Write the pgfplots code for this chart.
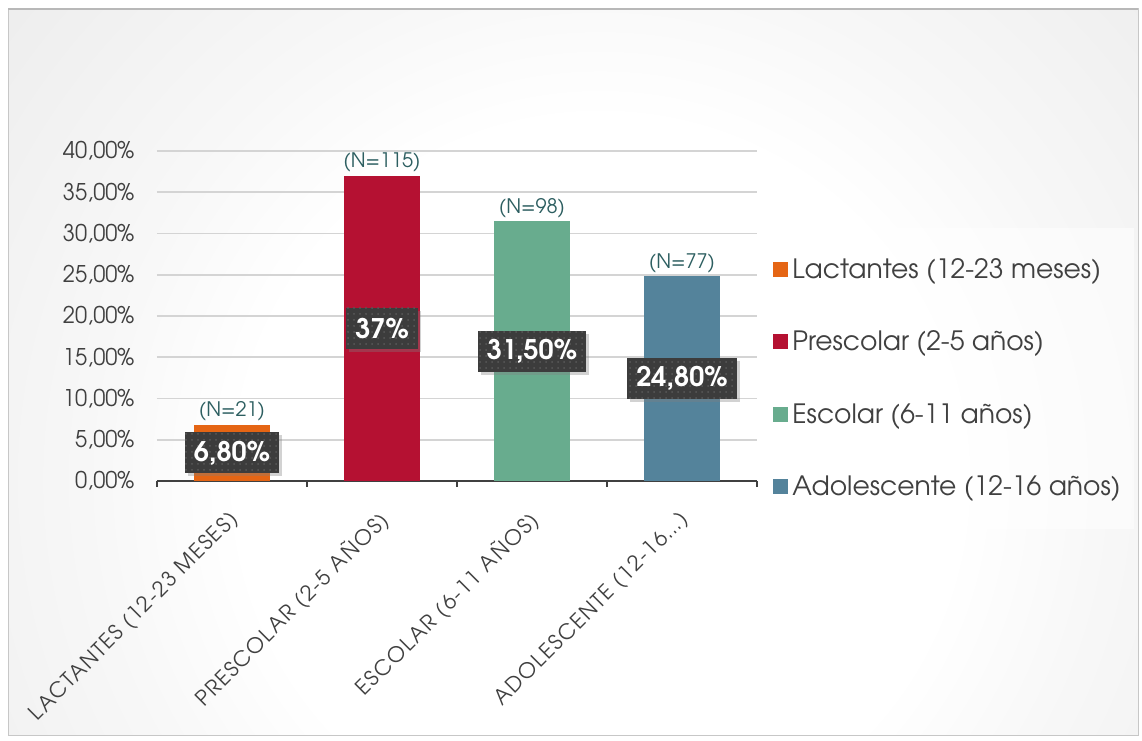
\documentclass[border=0pt]{standalone}
\usepackage{pgfplots}
\pgfplotsset{compat=1.18}
\usepackage{fontspec}
\setmainfont{TeX Gyre Adventor}
\usetikzlibrary{shadows,patterns}
\definecolor{cOr}{RGB}{229,101,20}
\definecolor{cRed}{RGB}{181,17,50}
\definecolor{cGreen}{RGB}{104,172,142}
\definecolor{cBlue}{RGB}{84,131,155}
\definecolor{txt}{RGB}{64,64,64}
\definecolor{ncol}{RGB}{44,94,96}
\definecolor{boxc}{RGB}{60,60,60}
\pgfdeclareradialshading{bgshade}{\pgfpoint{0bp}{0bp}}{color(0bp)=(white); color(12bp)=(white); color(17bp)=(black!3); color(30bp)=(black!9); color(38bp)=(black!18); color(46bp)=(black!22); color(50bp)=(black!23)}
\pgfplotsset{
  mybar/.style={ybar, bar width=38pt, bar shift=0pt, draw=none, fill=#1,
    legend image code/.code={\fill[fill=#1, fill opacity=1] (0pt,-3.5pt) rectangle (7.5pt,4pt);}},
}
\begin{document}
\begin{tikzpicture}
\useasboundingbox (0,0) rectangle (571pt,370pt);
\fill[white] (0,0) rectangle (571pt,370pt);
\begin{scope}
\clip (4pt,2.5pt) rectangle (569pt,365.5pt);
\shade[shading=bgshade] (-75pt,-245pt) rectangle (675pt,505pt);
\end{scope}
\draw[black!22, line width=0.5pt] (4pt,2.5pt) rectangle (569pt,365.5pt);
\draw[black!28, line width=1pt] (4pt,365.5pt) -- (569pt,365.5pt);
\begin{axis}[
  at={(78.5pt,129.5pt)}, anchor=south west,
  scale only axis, width=300pt, height=165pt,
  xmin=-0.5, xmax=3.5, ymin=0, ymax=40,
  clip=false,
  axis lines*=left,
  y axis line style={draw=none},
  x axis line style={draw=txt, line width=1.3pt},
  xtick={0,1,2,3},
  xticklabels={LACTANTES (12-23 MESES), PRESCOLAR (2-5 AÑOS), ESCOLAR (6-11 AÑOS), ADOLESCENTE (12-16…)},
  minor xtick={-0.5,0.5,1.5,2.5,3.5},
  tick align=outside,
  major x tick style={draw=none},
  minor x tick style={draw=txt, line width=1pt},
  minor tick length=3pt,
  ytick={0,5,...,40},
  ytick style={draw=none},
  ymajorgrids,
  grid style={draw=black!17, line width=0.8pt},
  /pgf/number format/assume math mode=true,
  yticklabel={\pgfmathprintnumber[fixed,fixed zerofill,precision=2,use comma]{\tick}\%},
  yticklabel style={font=\addfontfeatures{FakeStretch=0.95}\fontsize{11.5}{12}\selectfont, text=txt, xshift=-3.5pt},
  xticklabel style={font=\addfontfeatures{LetterSpace=7}\fontsize{10.5}{12}\selectfont, text=txt, xshift=4pt, yshift=-11pt, rotate=45, anchor=east},
  every node near coord/.append style={font=\fontsize{10}{11}\selectfont, text=ncol, inner sep=1.5pt},
  legend style={at={(1.0117,0.767)}, anchor=north west, draw=none, fill=white, fill opacity=0.55, text opacity=1,
    font=\fontsize{13.3}{15}\selectfont, text=txt, inner xsep=4.5pt, inner ysep=13pt, row sep=20.8pt},
  legend cell align=left,
]
\addplot[mybar=cOr, nodes near coords, point meta=explicit symbolic] coordinates {(0,6.8) [(N=21)]};
\addlegendentry{Lactantes (12-23 meses)}
\addplot[mybar=cRed, nodes near coords, point meta=explicit symbolic] coordinates {(1,37) [(N=115)]};
\addlegendentry{Prescolar (2-5 años)}
\addplot[mybar=cGreen, nodes near coords, point meta=explicit symbolic] coordinates {(2,31.5) [(N=98)]};
\addlegendentry{Escolar (6-11 años)}
\addplot[mybar=cBlue, nodes near coords, point meta=explicit symbolic] coordinates {(3,24.8) [(N=77)]};
\addlegendentry{Adolescente (12-16 años)}
\addplot[forget plot, draw=none, nodes near coords, point meta=explicit symbolic,
  every node near coord/.style={anchor=center, fill=boxc, text=white, font=\bfseries\fontsize{13.5}{15}\selectfont,
    inner xsep=4.5pt, inner ysep=0pt, minimum height=20.5pt,
    postaction={pattern=dots, pattern color=white!15!boxc},
    drop shadow={shadow xshift=1.5pt, shadow yshift=-1.5pt, opacity=0.35}}]
  coordinates {(0,3.4) [6,80\%] (1,18.5) [37\%] (2,15.75) [31,50\%] (3,12.4) [24,80\%]};
\end{axis}
\end{tikzpicture}
\end{document}
